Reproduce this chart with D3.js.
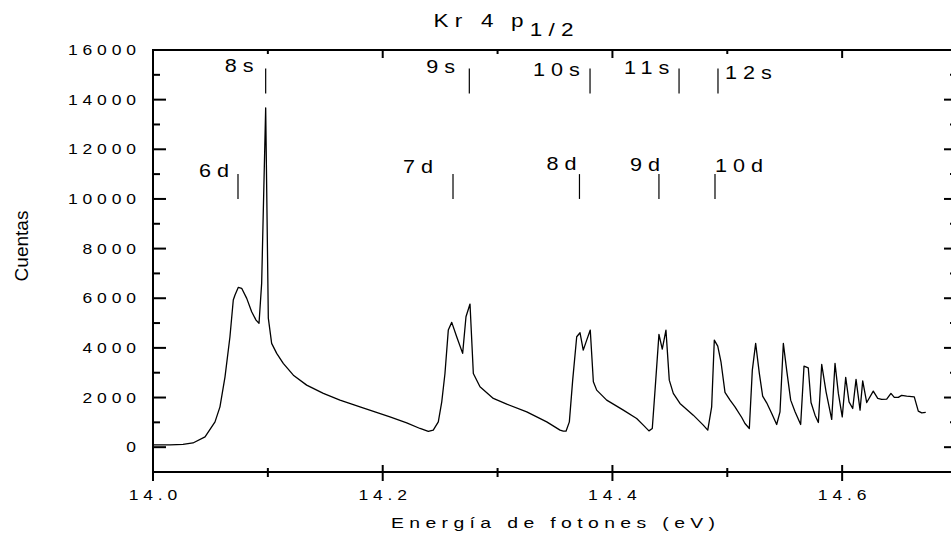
<!DOCTYPE html>
<html lang="es">
<head>
<meta charset="UTF-8">
<title>Kr 4p1/2</title>
<script src="https://d3js.org/d3.v7.min.js"></script>
<style>
  body { margin: 0; background: #fff; }
  svg { display: block; font-family: 'Liberation Sans', Arial, sans-serif; }
  .frame line { stroke: #000; stroke-width: 2; }
  .curve { fill: none; stroke: #000; stroke-width: 1.3; stroke-linejoin: round; }
  .marker { stroke: #000; stroke-width: 1.2; }
  text { fill: #000; }
</style>
</head>
<body>
<svg id="chart" width="951" height="538"></svg>
<script>
// photon energy (eV) and counts
const energy = [14.000, 14.0148, 14.0261, 14.0348, 14.0453, 14.0540, 14.0583, 14.0627, 14.0670, 14.0699,
  14.0714, 14.0743, 14.0772, 14.0816, 14.0859, 14.0897, 14.0923, 14.0946, 14.0981, 14.1004,
  14.1033, 14.1077, 14.1134, 14.1222, 14.1338, 14.1483, 14.1628, 14.1802, 14.2063, 14.2209,
  14.2325, 14.2397, 14.2440, 14.2484, 14.2514, 14.2542, 14.2571, 14.2601, 14.2644, 14.2696,
  14.2725, 14.2760, 14.2789, 14.2847, 14.2963, 14.3080, 14.3254, 14.3428, 14.3544, 14.3572,
  14.3596, 14.3625, 14.3654, 14.3689, 14.3718, 14.3746, 14.3776, 14.3807, 14.3834, 14.3863,
  14.3950, 14.4095, 14.4211, 14.4269, 14.4318, 14.4347, 14.4371, 14.4405, 14.4434, 14.4466,
  14.4495, 14.4530, 14.4588, 14.4704, 14.4791, 14.4830, 14.4864, 14.4887, 14.4917, 14.4945,
  14.4980, 14.5024, 14.5067, 14.5126, 14.5154, 14.5192, 14.5218, 14.5247, 14.5279, 14.5308,
  14.5343, 14.5387, 14.5430, 14.5459, 14.5488, 14.5517, 14.5552, 14.5590, 14.5639, 14.5668,
  14.5705, 14.5729, 14.5764, 14.5793, 14.5822, 14.5860, 14.5909, 14.5938, 14.5967, 14.6001,
  14.6031, 14.6060, 14.6092, 14.6121, 14.6156, 14.6179, 14.6214, 14.6271, 14.6310, 14.6344,
  14.6388, 14.6425, 14.6454, 14.6489, 14.6518, 14.6562, 14.6628, 14.6663, 14.6693, 14.6728];

const counts = [90, 95, 110, 170, 415, 1020, 1625, 2835, 4450, 5930,
  6130, 6440, 6400, 5995, 5455, 5120, 4990, 6600, 13670, 5200,
  4180, 3780, 3375, 2900, 2500, 2165, 1895, 1625, 1220, 980,
  753, 633, 685, 1020, 1826, 2970, 4717, 5028, 4447, 3778,
  5254, 5766, 2970, 2431, 1963, 1734, 1425, 1020, 685, 645,
  645, 1020, 2700, 4447, 4609, 3911, 4314, 4717, 2633, 2298,
  1895, 1492, 1157, 887, 657, 753, 2298, 4543, 3952, 4717,
  2700, 2165, 1762, 1290, 887, 685, 1625, 4314, 4072, 3440,
  2205, 1895, 1625, 1196, 955, 753, 3105, 4180, 2970, 2056,
  1786, 1357, 914, 1425, 4180, 3105, 1895, 1425, 914, 3266,
  3198, 1798, 1290, 996, 3334, 2230, 1117, 3375, 2165, 1222,
  2810, 1826, 1560, 2730, 1492, 2673, 1798, 2258, 1963, 1923,
  1935, 2165, 2004, 2004, 2085, 2056, 2028, 1452, 1383, 1399];

const yTickLabels = [0, 2000, 4000, 6000, 8000, 10000, 12000, 14000, 16000];
const xTickLabels = [14.0, 14.2, 14.4, 14.6];

// Rydberg series markers
const sLevels = ["8s", "9s", "10s", "11s", "12s"];
const sEnergies = [14.0981, 14.2754, 14.3805, 14.4580, 14.4919];
const dLevels = ["6d", "7d", "8d", "9d", "10d"];
const dEnergies = [14.0740, 14.2612, 14.3713, 14.4405, 14.4893];

// label placement next to each marker: [dx px, baseline y px]
const sLabelPos = [[-41, 72], [-43, 73], [-57, 76], [-55, 74], [7, 79]];
const dLabelPos = [[-39, 177], [-50, 173], [-33, 170], [-29, 171], [0, 172]];

const svg = d3.select("#chart");
const x = d3.scaleLinear().domain([14.0, 14.7]).range([153, 957]);
const y = d3.scaleLinear().domain([-1000, 16000]).range([472, 50]);

// stretched, spaced lettering like the original plot
function stretchText(g, px, py, str, size, sx, anchor) {
  const ls = 0.278 * size;
  let shift = 0;
  if (anchor === "end") shift = ls * sx;
  if (anchor === "middle") shift = ls * sx / 2;
  return g.append("text")
    .attr("transform", `translate(${px + shift},${py}) scale(${sx},1)`)
    .attr("font-size", size)
    .attr("letter-spacing", ls)
    .attr("text-anchor", anchor)
    .text(str);
}

// frame + ticks
const frame = svg.append("g").attr("class", "frame");
const [x0, x1] = x.range();
const [yb, yt] = y.range();
frame.append("line").attr("x1", x0).attr("x2", x1).attr("y1", yb).attr("y2", yb);
frame.append("line").attr("x1", x0).attr("x2", x1).attr("y1", yt).attr("y2", yt);
frame.append("line").attr("x1", x0).attr("x2", x0).attr("y1", yt - 1).attr("y2", yb + 9);
frame.append("line").attr("x1", x1).attr("x2", x1).attr("y1", yt - 1).attr("y2", yb + 9);

x.ticks(7).forEach((v, i) => {
  const major = i % 2 === 0;
  const px = x(v);
  if (i === 0) return;
  frame.append("line").attr("x1", px).attr("x2", px)
    .attr("y1", yb - (major ? 7 : 4)).attr("y2", yb + (major ? 9 : 5));
  frame.append("line").attr("x1", px).attr("x2", px)
    .attr("y1", yt).attr("y2", yt + (major ? 8 : 4));
});

y.ticks(17).forEach(v => {
  if (v === -1000) return;
  const major = v % 2000 === 0;
  const len = major ? 13 : 7;
  const py = y(v);
  frame.append("line").attr("x1", x0).attr("x2", x0 + len).attr("y1", py).attr("y2", py);
  frame.append("line").attr("x1", x1 - len).attr("x2", x1).attr("y1", py).attr("y2", py);
});

const labels = svg.append("g");
yTickLabels.forEach(v => stretchText(labels, 136, y(v) + 5, String(v), 14, 1.25, "end"));
xTickLabels.forEach(v => stretchText(labels, x(v), 500, v.toFixed(1), 14, 1.25, "middle"));

// axis titles
stretchText(labels, 553, 528, "Energía de fotones (eV)", 15.5, 1.25, "middle");
labels.append("text")
  .attr("transform", "translate(28,246) rotate(-90)")
  .attr("font-size", 19)
  .attr("text-anchor", "middle")
  .text("Cuentas");

// title with subscript
const title = labels.append("text")
  .attr("transform", "translate(433.5,27) scale(1.25,1)")
  .attr("font-size", 18)
  .attr("letter-spacing", 5);
title.append("tspan").text("Kr 4");
title.append("tspan").attr("dx", 9).text("p");
title.append("tspan").attr("dx", 0).attr("dy", 9).text("1/2");

// spectrum
const pts = energy.map((e, i) => [e, counts[i]]);
svg.append("path")
  .datum(pts)
  .attr("class", "curve")
  .attr("d", d3.line().x(d => x(d[0])).y(d => y(d[1])));

// series markers
const marks = svg.append("g");
sEnergies.forEach((e, i) => {
  marks.append("line").attr("class", "marker")
    .attr("x1", x(e)).attr("x2", x(e)).attr("y1", y(15250)).attr("y2", y(14250));
  stretchText(marks, x(e) + sLabelPos[i][0], sLabelPos[i][1], sLevels[i], 18, 1.2, "start");
});
dEnergies.forEach((e, i) => {
  marks.append("line").attr("class", "marker")
    .attr("x1", x(e)).attr("x2", x(e)).attr("y1", y(11000)).attr("y2", y(10000));
  stretchText(marks, x(e) + dLabelPos[i][0], dLabelPos[i][1], dLevels[i], 18, 1.2, "start");
});
</script>
</body>
</html>
